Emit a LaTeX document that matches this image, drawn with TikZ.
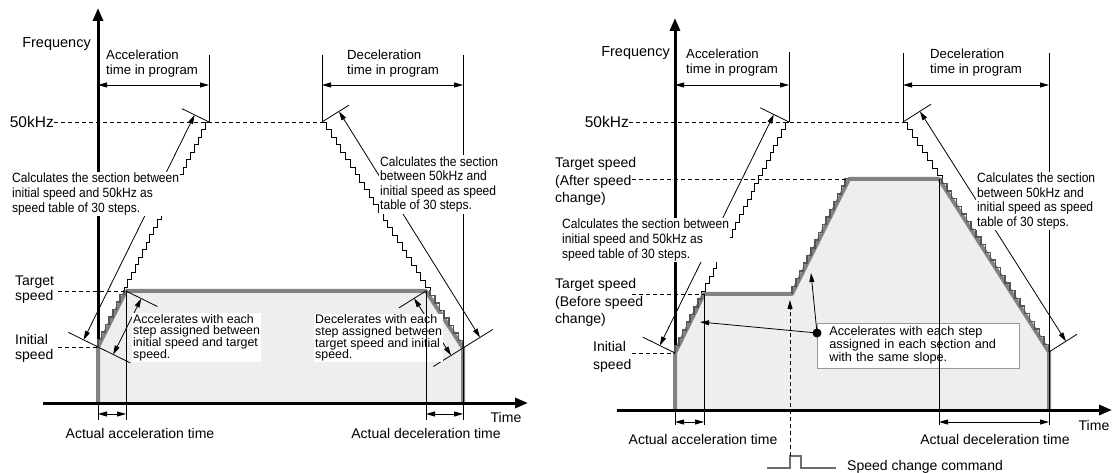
\documentclass[tikz,border=0pt]{standalone}
\usepackage{fontspec}
\setmainfont{Liberation Sans}
\newfontfamily\narrowfont[FakeStretch=0.9]{Liberation Sans}
\usetikzlibrary{arrows.meta}

\definecolor{profgray}{RGB}{130,130,130}
\definecolor{areagray}{RGB}{238,238,238}
\definecolor{stepgray}{RGB}{85,85,85}
\definecolor{boxgray}{RGB}{150,150,150}
\definecolor{pulsegray}{RGB}{110,110,110}

\tikzset{
  axisline/.style={line width=3pt, -{Triangle[length=13pt,width=10pt]}},
  profile/.style={line width=4pt, profgray, line join=round},
  stairline/.style={line width=0.8pt, black},
  darkstairs/.style={line width=1.5pt, stepgray},
  extline/.style={line width=0.8pt},
  levelline/.style={line width=0.8pt, dash pattern=on 4pt off 3pt},
  dimarrow/.style={line width=0.8pt, {Triangle[length=9pt,width=5pt]}-{Triangle[length=9pt,width=5pt]}},
  ptrarrow/.style={line width=0.8pt, -{Triangle[length=9pt,width=5pt]}},
  lbl/.style={font=\fontsize{14}{15}\selectfont, inner sep=0pt, align=left},
  biglbl/.style={font=\fontsize{15.5}{16}\selectfont, inner sep=0pt},
  proglbl/.style={font=\fontsize{13.2}{15}\selectfont, inner sep=0pt, align=left},
  calcnote/.style={font=\narrowfont\fontsize{13.4}{14.6}\selectfont, inner sep=1pt, fill=white, align=left},
  halonote/.style={font=\fontsize{12.4}{11.7}\selectfont, inner sep=1pt, fill=white, align=left},
  boxnote/.style={draw=boxgray, fill=white, line width=0.8pt, font=\fontsize{12.7}{13}\selectfont,
    inner xsep=12pt, text width=178pt, minimum height=45pt, align=left}
}

\begin{document}
\begin{tikzpicture}[x=1pt,y=-1pt]
\useasboundingbox (0,0) rectangle (1120,473);

% ================= left: one target speed =================
\coordinate (LO) at (98,403);
\coordinate (LI) at (98,347);
\coordinate (LT) at (126,291);
\coordinate (LD) at (426,291);
\coordinate (LE) at (463,348);
\coordinate (LEb) at (463,403);
\coordinate (LP) at (209,122);
\coordinate (LQ) at (322,122);

% area under the speed profile
\fill[areagray] (LO) -- (LI) -- (LT) -- (LD) -- (LE) -- (LEb) -- cycle;

% speed tables of 30 steps
\draw[stairline] (LI) \foreach \k in {1,...,30}{ -- ++(0,-7.5) -- ++(3.7,0)};
\draw[stairline] (LQ) \foreach \k in {1,...,30}{ -- ++(4.7,0) -- ++(0,7.533)};

% y axis, profile, x axis
\draw[axisline] (LO) -- (98,8) coordinate (LYT);
\draw[profile] (LO) -- (LI) -- (LT) -- (LD) -- (LE) -- (LEb);
\begin{scope}
  \clip (60,291) rectangle (500,349);
  \draw[darkstairs] (LI) \foreach \k in {1,...,30}{ -- ++(0,-7.5) -- ++(3.7,0)};
  \draw[darkstairs] (LQ) \foreach \k in {1,...,30}{ -- ++(4.7,0) -- ++(0,7.533)};
\end{scope}
\coordinate (LXL) at (43,403);
\coordinate (LXR) at (528,403);
\draw[axisline] (LXL) -- (LXR);

% levels
\node[lbl, anchor=east, font=\fontsize{14.5}{15}\selectfont] (freqL) at (91,44) {Frequency};
\node[biglbl, anchor=east] (f50L) at (54,122) {50kHz};
\draw[levelline] (f50L.east) -- (LQ);
\node[lbl, anchor=west] (tgtL) at (15,289.5) {Target\\speed};
\coordinate (tgtLs) at (58,291);
\draw[levelline] (tgtLs) -- (LT);
\node[lbl, anchor=west] (iniL) at (15,348.5) {Initial\\speed};
\coordinate (iniLs) at (58,347);
\draw[levelline] (iniLs) -- (LI);

% times in program
\coordinate (LPt) at (209,55);
\coordinate (LQt) at (322,55);
\coordinate (LEt) at (463,55);
\coordinate (LEd) at (463,420);
\draw[extline] (LPt) -- (LP);
\draw[extline] (LQt) -- (LQ);
\draw[extline] (LEt) -- (LEd);
\coordinate (LAa) at (98,85);
\coordinate (LAb) at (209,85);
\coordinate (LBa) at (322,85);
\coordinate (LBb) at (463,85);
\draw[dimarrow] (LAa) -- (LAb);
\draw[dimarrow] (LBa) -- (LBb);
\node[proglbl, anchor=west] (accprogL) at (106,63.5) {Acceleration\\time in program};
\node[proglbl, anchor=west] (decprogL) at (347,63.5) {Deceleration\\time in program};

% markers across the slopes
\coordinate (LPm) at (182,108.7);
\coordinate (LIm1) at (68.4,332.4);
\coordinate (LIm2) at (130.3,362.9);
\coordinate (LTm) at (157.4,306.5);
\coordinate (LQm) at (349.1,105.1);
\coordinate (LEm1) at (433.3,366.5);
\coordinate (LEm2) at (492.7,329.5);
\coordinate (LDm) at (398.9,307.9);
\draw[extline] (LP) -- (LPm);
\draw[extline] (LIm1) -- (LIm2);
\draw[extline] (LT) -- (LTm);
\draw[extline] (LQ) -- (LQm);
\draw[extline] (LEm1) -- (LEm2);
\draw[extline] (LD) -- (LDm);

% sections along the slopes
\coordinate (LCa) at (83.6,339.9);
\coordinate (LCb) at (194.6,114.9);
\coordinate (LSa) at (113.2,354.5);
\coordinate (LSb) at (141.2,298.5);
\coordinate (LKa) at (339,111.4);
\coordinate (LKb) at (480,337.4);
\coordinate (LRa) at (414.1,298.4);
\coordinate (LRb) at (451.1,355.4);
\draw[dimarrow] (LCa) -- (LCb);
\draw[dimarrow] (LSa) -- (LSb);
\draw[dimarrow] (LKa) -- (LKb);
\draw[dimarrow] (LRa) -- (LRb);

\node[calcnote, anchor=west] (calcaccL) at (11,194) {Calculates the section between\\initial speed and 50kHz as\\speed table of 30 steps.};
\node[calcnote, anchor=west] (calcdecL) at (379,184.5) {Calculates the section\\between 50kHz and\\initial speed as speed\\table of 30 steps.};
\node[halonote, anchor=west] (accnoteL) at (132,337.5) {Accelerates with each\\step assigned between\\initial speed and target\\speed.};
\node[halonote, anchor=west] (decnoteL) at (314,338) {Decelerates with each\\step assigned between\\target speed and initial\\speed.};

% actual times
\coordinate (LOd) at (98,420);
\coordinate (LTd) at (126,420);
\coordinate (LDd) at (426,420);
\draw[extline] (LO) -- (LOd);
\draw[extline] (LT) -- (LTd);
\draw[extline] (LD) -- (LDd);
\coordinate (LUa) at (98,414);
\coordinate (LUb) at (126,414);
\coordinate (LVa) at (426,414);
\coordinate (LVb) at (463,414);
\draw[dimarrow] (LUa) -- (LUb);
\draw[dimarrow] (LVa) -- (LVb);
\node[lbl] (actaccL) at (140,433) {Actual acceleration time};
\node[lbl] (actdecL) at (426,433) {Actual deceleration time};
\node[lbl] (timeL) at (506,417) {Time};

% ================= right: speed change =================
\coordinate (RO) at (675,410);
\coordinate (RI) at (675,353);
\coordinate (RT1) at (704,294);
\coordinate (RB) at (792,294);
\coordinate (RT2) at (849,179);
\coordinate (RD) at (939,179);
\coordinate (RE) at (1049,352);
\coordinate (REb) at (1049,410);
\coordinate (RP) at (789,122);
\coordinate (RQ) at (903,122);

% area under the speed profile
\fill[areagray] (RO) -- (RI) -- (RT1) -- (RB) -- (RT2) -- (RD) -- (RE) -- (REb) -- cycle;

% speed tables of 30 steps
\draw[stairline] (RI) \foreach \k in {1,...,30}{ -- ++(0,-7.7) -- ++(3.8,0)};
\draw[stairline] (RQ) \foreach \k in {1,...,30}{ -- ++(4.867,0) -- ++(0,7.667)};

% y axis, profile, x axis
\draw[axisline] (RO) -- (675,18) coordinate (RYT);
\draw[profile] (RO) -- (RI) -- (RT1) -- (RB) -- (RT2) -- (RD) -- (RE) -- (REb);
\begin{scope}
  \clip (640,294) rectangle (720,354);
  \draw[darkstairs] (RI) \foreach \k in {1,...,30}{ -- ++(0,-7.7) -- ++(3.8,0)};
\end{scope}
\begin{scope}
  \clip (900,179) rectangle (1060,353);
  \draw[darkstairs] (RQ) \foreach \k in {1,...,30}{ -- ++(4.867,0) -- ++(0,7.667)};
\end{scope}
\draw[darkstairs] (RB) \foreach \k in {1,...,15}{ -- ++(0,-7.7) -- ++(3.8,0)};
\coordinate (RXL) at (617,410);
\coordinate (RXR) at (1112,410);
\draw[axisline] (RXL) -- (RXR);

% levels
\node[lbl, anchor=east, font=\fontsize{14.5}{15}\selectfont] (freqR) at (670,53) {Frequency};
\node[biglbl, anchor=east] (f50R) at (629,122) {50kHz};
\draw[levelline] (f50R.east) -- (RQ);
\node[lbl, anchor=west, font=\fontsize{14}{17.5}\selectfont] (tgtaR) at (555,181.5) {Target speed\\(After speed\\change)};
\coordinate (tgtaRs) at (632,179);
\draw[levelline] (tgtaRs) -- (RT2);
\node[lbl, anchor=west, font=\fontsize{14}{17.5}\selectfont] (tgtbR) at (555,302.5) {Target speed\\(Before speed\\change)};
\coordinate (tgtbRs) at (632,294);
\draw[levelline] (tgtbRs) -- (RT1);
\node[lbl, anchor=west, font=\fontsize{14}{18}\selectfont] (iniR) at (593,357) {Initial\\speed};
\coordinate (iniRs) at (632,353);
\draw[levelline] (iniRs) -- (RI);

% times in program
\coordinate (RPt) at (789,52);
\coordinate (RQt) at (903,53);
\coordinate (REt) at (1049,53);
\coordinate (REd) at (1049,425);
\draw[extline] (RPt) -- (RP);
\draw[extline] (RQt) -- (RQ);
\draw[extline] (REt) -- (REd);
\coordinate (RAa) at (675,85);
\coordinate (RAb) at (789,85);
\coordinate (RBa) at (903,85);
\coordinate (RBb) at (1049,85);
\draw[dimarrow] (RAa) -- (RAb);
\draw[dimarrow] (RBa) -- (RBb);
\node[proglbl, anchor=west] (accprogR) at (686,62.5) {Acceleration\\time in program};
\node[proglbl, anchor=west] (decprogR) at (930,62.5) {Deceleration\\time in program};

% markers across the slopes
\coordinate (RPm) at (760.3,107.8);
\coordinate (RIm) at (642.7,337.1);
\coordinate (RQm) at (930.9,104.3);
\coordinate (REm) at (1076.9,334.3);
\draw[extline] (RP) -- (RPm);
\draw[extline] (RI) -- (RIm);
\draw[extline] (RQ) -- (RQm);
\draw[extline] (RE) -- (REm);

% sections along the slopes
\coordinate (RCa) at (659.8,345.5);
\coordinate (RCb) at (773.8,114.5);
\coordinate (RKa) at (919.9,111.3);
\coordinate (RKb) at (1065.9,341.3);
\draw[dimarrow] (RCa) -- (RCb);
\draw[dimarrow] (RKa) -- (RKb);
\node[calcnote, anchor=west] (calcaccR) at (561,240) {Calculates the section between\\initial speed and 50kHz as\\speed table of 30 steps.};
\node[calcnote, anchor=west] (calcdecR) at (976,201) {Calculates the section\\between 50kHz and\\initial speed as speed\\table of 30 steps.};

% same slope in each section
\node[boxnote, anchor=west] (slopeR) at (817,345.5) {Accelerates with each step\\assigned in each section and\\with the same slope.};
\node[circle, fill=black, inner sep=0pt, minimum size=9pt] (dotR) at (817,333) {};
\coordinate (slope1) at (700,322);
\coordinate (slope2) at (811,273);
\draw[ptrarrow] (dotR.center) -- (slope1);
\draw[ptrarrow] (dotR.center) -- (slope2);

% speed change command
\coordinate (cmd0) at (767,468);
\coordinate (cmd1) at (790,468);
\coordinate (cmd2) at (790,456);
\coordinate (cmd3) at (801,456);
\coordinate (cmd4) at (801,468);
\coordinate (cmd5) at (836,468);
\draw[pulsegray, line width=2.5pt] (cmd0) -- (cmd1) -- (cmd2) -- (cmd3) -- (cmd4) -- (cmd5);
\coordinate (cmdtip) at (790,300);
\draw[levelline, -{Triangle[length=9pt,width=5pt]}] (cmd2) -- (cmdtip);
\node[lbl, anchor=west] (cmdR) at (847,467) {Speed change command};

% actual times
\coordinate (ROd) at (675,425);
\coordinate (RTd) at (704,425);
\coordinate (RDd) at (939,425);
\draw[extline] (RO) -- (ROd);
\draw[extline] (RT1) -- (RTd);
\draw[extline] (RD) -- (RDd);
\coordinate (RUa) at (675,422);
\coordinate (RUb) at (704,422);
\coordinate (RVa) at (939,422);
\coordinate (RVb) at (1049,422);
\draw[dimarrow] (RUa) -- (RUb);
\draw[dimarrow] (RVa) -- (RVb);
\node[lbl] (actaccR) at (703,439) {Actual acceleration time};
\node[lbl] (actdecR) at (995,439) {Actual deceleration time};
\node[lbl] (timeR) at (1094,425) {Time};

\end{tikzpicture}
\end{document}
